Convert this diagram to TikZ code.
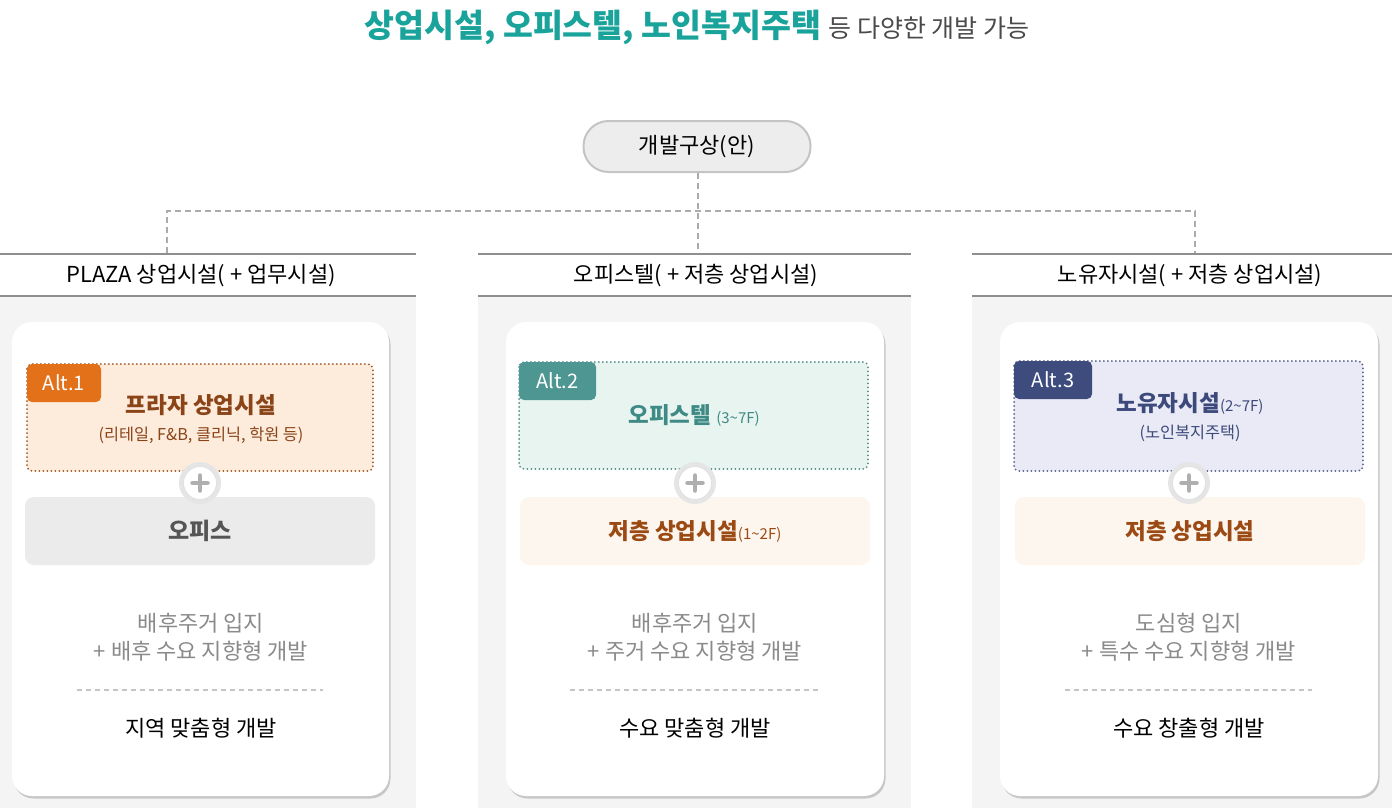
\documentclass[tikz,border=0pt]{standalone}
\usepackage{fontspec}
\setmainfont{Noto Sans CJK KR}
\usetikzlibrary{shadows}
\definecolor{teal1}{HTML}{1AA39B}
\definecolor{darkgray1}{HTML}{4A4A4A}
\definecolor{colbg}{HTML}{F4F4F4}
\definecolor{hline}{HTML}{8E8E8E}
\definecolor{dashc}{HTML}{ABABAB}
\definecolor{pillfill}{HTML}{EDEDED}
\definecolor{pillline}{HTML}{C4C4C4}
\definecolor{orgTag}{HTML}{E2711A}
\definecolor{orgFill}{HTML}{FDEBDC}
\definecolor{orgLine}{HTML}{9E5A26}
\definecolor{orgText}{HTML}{8A4418}
\definecolor{tealTag}{HTML}{4E9692}
\definecolor{tealFill}{HTML}{E8F4F0}
\definecolor{tealLine}{HTML}{4F8F8B}
\definecolor{tealText}{HTML}{3E8A85}
\definecolor{navyTag}{HTML}{3E4B7D}
\definecolor{navyFill}{HTML}{E9EAF5}
\definecolor{navyLine}{HTML}{57618A}
\definecolor{navyText}{HTML}{3C497B}
\definecolor{lowFill}{HTML}{FDF6EE}
\definecolor{lowText}{HTML}{9C4A14}
\definecolor{offFill}{HTML}{EBEBEB}
\definecolor{offText}{HTML}{555555}
\definecolor{grayText}{HTML}{8A8A8A}
\definecolor{plusc}{HTML}{AFAFAF}
\tikzset{
  colbox/.style={fill=colbg, draw=none, minimum width=#1, minimum height=512pt, inner sep=0pt},
  card/.style={fill=white, draw=none, rounded corners=20pt, minimum width=#1, minimum height=474pt, inner sep=0pt,
    drop shadow={shadow xshift=1.5pt, shadow yshift=-2.5pt, opacity=0.18, fill=black}},
  altbox/.style={rounded corners=5pt, line width=2pt, line cap=round, dash pattern=on 0pt off 4pt, inner sep=0pt},
  tagbox/.style={rounded corners=5pt, draw=none, minimum width=#1, minimum height=38pt, inner sep=0pt},
  tagtext/.style={text=white, font=\fontsize{20}{20}\selectfont, inner sep=0pt},
  lowbox/.style={rounded corners=9pt, draw=none, minimum width=350pt, minimum height=68pt, inner sep=0pt},
  hdr/.style={font=\fontsize{22}{26}\selectfont, text=black, inner sep=0pt},
  graytxt/.style={font=\fontsize{22}{28}\selectfont, text=grayText, align=center, inner sep=0pt},
  bottxt/.style={font=\fontsize{22}{26}\selectfont, text=black, inner sep=0pt},
  hline/.style={draw=hline, line width=2pt},
  conn/.style={draw=dashc, line width=1.6pt, dash pattern=on 6pt off 4pt},
  sep/.style={draw=pillline, line width=1.2pt, dash pattern=on 5pt off 4pt},
  plushalo/.style={circle, fill=black!10, draw=none, minimum size=42pt, inner sep=0pt},
  plusdisc/.style={circle, fill=white, draw=black!12, line width=0.8pt, minimum size=33pt, inner sep=0pt},
  plusbar/.style={draw=plusc, line width=4.5pt, line cap=round},
}
\begin{document}
\begin{tikzpicture}[x=1pt,y=-1pt]
\useasboundingbox (0,0) rectangle (1392,808);
% title
\node[inner sep=0pt, anchor=base] (title) at (697,38) {\fontsize{32.5}{32}\selectfont\bfseries\color{teal1}상업시설, 오피스텔, 노인복지주택 \fontsize{25}{25}\mdseries\color{darkgray1}등 다양한 개발 가능};
% column backgrounds
\node[colbox=416pt] (bg1) at (208,552) {};
\node[colbox=433pt] (bg2) at (694.5,552) {};
\node[colbox=420pt] (bg3) at (1182,552) {};
% header lines
\draw[hline] (0,254) -- (416,254) (0,296) -- (416,296);
\draw[hline] (478,254) -- (911,254) (478,296) -- (911,296);
\draw[hline] (972,254) -- (1392,254) (972,296) -- (1392,296);
% headers
\node[hdr] (h1) at (201,276) {PLAZA 상업시설( + 업무시설)};
\node[hdr] (h2) at (696,276) {오피스텔( + 저층 상업시설)};
\node[hdr] (h3) at (1190,276) {노유자시설( + 저층 상업시설)};
\coordinate (t1) at (167,253);
\coordinate (t2) at (698,253);
\coordinate (t3) at (1195,253);
% pill
\node[fill=pillfill, draw=pillline, line width=2pt, rounded corners=25pt, minimum width=227pt, minimum height=51pt, inner sep=0pt,
  font=\fontsize{22}{26}\selectfont] (plan) at (697,146.5) {개발구상(안)};
% connectors
\coordinate (jl) at (167,211);
\coordinate (jr) at (1195,211);
\draw[conn] (plan.south -| t2) -- (t2);
\draw[conn] (t1) -- (jl) -- (jr) -- (t3);
% cards
\node[card=377pt] (c1) at (200.5,559) {};
\node[card=378pt] (c2) at (695,559) {};
\node[card=378pt] (c3) at (1189,559) {};
% alt boxes
\filldraw[altbox, fill=orgFill, draw=orgLine] (27,364) rectangle (373,471);
\filldraw[altbox, fill=tealFill, draw=tealLine] (519,362) rectangle (868,469);
\filldraw[altbox, fill=navyFill, draw=navyLine] (1014,361) rectangle (1363,471);
\node[tagbox=74pt, fill=orgTag] (tag1) at (64,383) {};
\node[tagbox=77pt, fill=tealTag] (tag2) at (557.5,381) {};
\node[tagbox=78pt, fill=navyTag] (tag3) at (1053,380) {};
\node[tagtext] at (tag1) {Alt.1};
\node[tagtext] at (tag2) {Alt.2};
\node[tagtext] at (tag3) {Alt.3};
\node[inner sep=0pt, text=orgText, font=\fontsize{22.5}{26}\selectfont\bfseries] (a1t) at (201,405) {프라자 상업시설};
\node[inner sep=0pt, text=orgText, font=\fontsize{16.3}{18}\selectfont] (a1s) at (201,435) {(리테일, F\&B, 클리닉, 학원 등)};
\node[inner sep=0pt, text=tealText] (a2t) at (694,415) {\fontsize{22.5}{26}\selectfont\bfseries 오피스텔 \fontsize{15}{16}\mdseries(3\textasciitilde7F)};
\node[inner sep=0pt, text=navyText] (a3t) at (1190,403) {\fontsize{22.5}{26}\selectfont\bfseries 노유자시설\fontsize{15}{16}\mdseries(2\textasciitilde7F)};
\node[inner sep=0pt, text=navyText, font=\fontsize{16.3}{18}\selectfont] (a3s) at (1190,433) {(노인복지주택)};
% lower boxes
\node[lowbox, fill=offFill, text=offText, font=\fontsize{23}{26}\selectfont\bfseries] (l1) at (200,531) {오피스};
\node[lowbox, fill=lowFill, text=lowText] (l2) at (695,531) {\fontsize{22.5}{26}\selectfont\bfseries 저층 상업시설\fontsize{15}{16}\mdseries(1\textasciitilde2F)};
\node[lowbox, fill=lowFill, text=lowText, font=\fontsize{22.5}{26}\selectfont\bfseries] (l3) at (1190,531) {저층 상업시설};
% plus icons
\foreach \n/\x in {p1/200,p2/695,p3/1189}{
  \node[plushalo] at (\x,483) {};
  \node[plusdisc] (\n) at (\x,483) {};
  \draw[plusbar] ([xshift=-7.5pt]\n.center) -- ([xshift=7.5pt]\n.center);
  \draw[plusbar] ([yshift=-7.5pt]\n.center) -- ([yshift=7.5pt]\n.center);
}
% descriptions
\node[graytxt] (d1) at (201,637) {배후주거 입지\\+ 배후 수요 지향형 개발};
\node[graytxt] (d2) at (695,637) {배후주거 입지\\+ 주거 수요 지향형 개발};
\node[graytxt] (d3) at (1189,637) {도심형 입지\\+ 특수 수요 지향형 개발};
\draw[sep] (77,690) -- (323,690);
\draw[sep] (570,690) -- (818,690);
\draw[sep] (1065,690) -- (1312,690);
\node[bottxt] (b1) at (201,728) {지역 맞춤형 개발};
\node[bottxt] (b2) at (695,728) {수요 맞춤형 개발};
\node[bottxt] (b3) at (1189,728) {수요 창출형 개발};
\end{tikzpicture}
\end{document}
